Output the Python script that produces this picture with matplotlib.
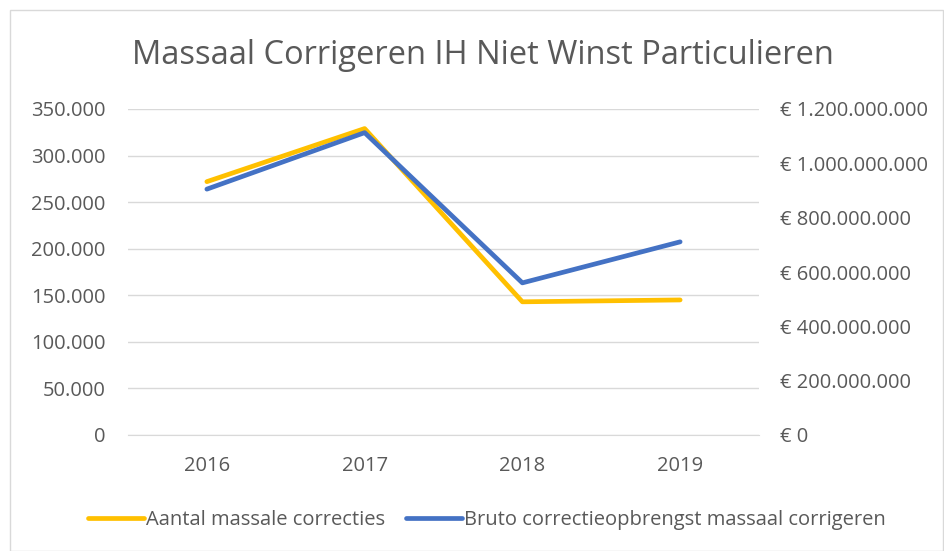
import matplotlib.pyplot as plt
from matplotlib.ticker import FuncFormatter
from matplotlib.patches import Rectangle

# data
jaren = ['2016', '2017', '2018', '2019']
aantal = [272000, 329000, 143000, 145000]
opbrengst = [905e6, 1113e6, 560e6, 711e6]

geel = '#FFC000'
blauw = '#4472C4'
tekst = '#595959'
raster = '#D9D9D9'

plt.rcParams['font.family'] = ['Open Sans', 'DejaVu Sans']

fig = plt.figure(figsize=(9.44, 5.51), dpi=100)
fig.patches.append(Rectangle((10 / 944, 0), 933 / 944, 541 / 551, transform=fig.transFigure,
                             fill=False, edgecolor=raster, linewidth=1))
ax = fig.add_axes([128 / 944, 1 - 435 / 551, 631 / 944, 326 / 551])
ax2 = ax.twinx()

x = range(len(jaren))
l1, = ax.plot(x, aantal, color=geel, linewidth=3.4, solid_capstyle='round',
              label='Aantal massale correcties')
l2, = ax2.plot(x, opbrengst, color=blauw, linewidth=3.4, solid_capstyle='round',
               label='Bruto correctieopbrengst massaal corrigeren')

ax.set_xlim(-0.5, 3.5)
ax.set_ylim(0, 350000)
ax.set_yticks(range(0, 350001, 50000))
ax2.set_ylim(0, 1.2e9)
ax2.set_yticks([i * 2e8 for i in range(7)])

def punt(v, pos):
    return f'{int(v):,}'.replace(',', '.')

def euro(v, pos):
    return '€ ' + f'{int(v):,}'.replace(',', '.')

ax.yaxis.set_major_formatter(FuncFormatter(punt))
ax2.yaxis.set_major_formatter(FuncFormatter(euro))
ax.set_xticks(list(x))
ax.set_xticklabels(jaren)

ax.grid(axis='y', color=raster, linewidth=1)
ax.set_axisbelow(True)
for a in (ax, ax2):
    for s in a.spines.values():
        s.set_visible(False)
ax.spines['bottom'].set_visible(True)
ax.spines['bottom'].set_color(raster)

ax.tick_params(axis='y', length=0, pad=16, labelsize=14.5, labelcolor=tekst)
ax.tick_params(axis='x', length=0, pad=15, labelsize=14.5, labelcolor=tekst)
ax2.tick_params(axis='y', length=0, pad=15, labelsize=14.5, labelcolor=tekst)

fig.text(483 / 944, 1 - 55 / 551, 'Massaal Corrigeren IH Niet Winst Particulieren',
         ha='center', va='center', fontsize=23.5, color=tekst)

fig.legend(handles=[l1, l2], loc='center', bbox_to_anchor=(487 / 944, 1 - 520 / 551),
           ncol=2, frameon=False, fontsize=14.5, labelcolor=tekst, handlelength=2.8,
           handletextpad=0.1, columnspacing=1.0)

fig.savefig('out.png', dpi=100)
